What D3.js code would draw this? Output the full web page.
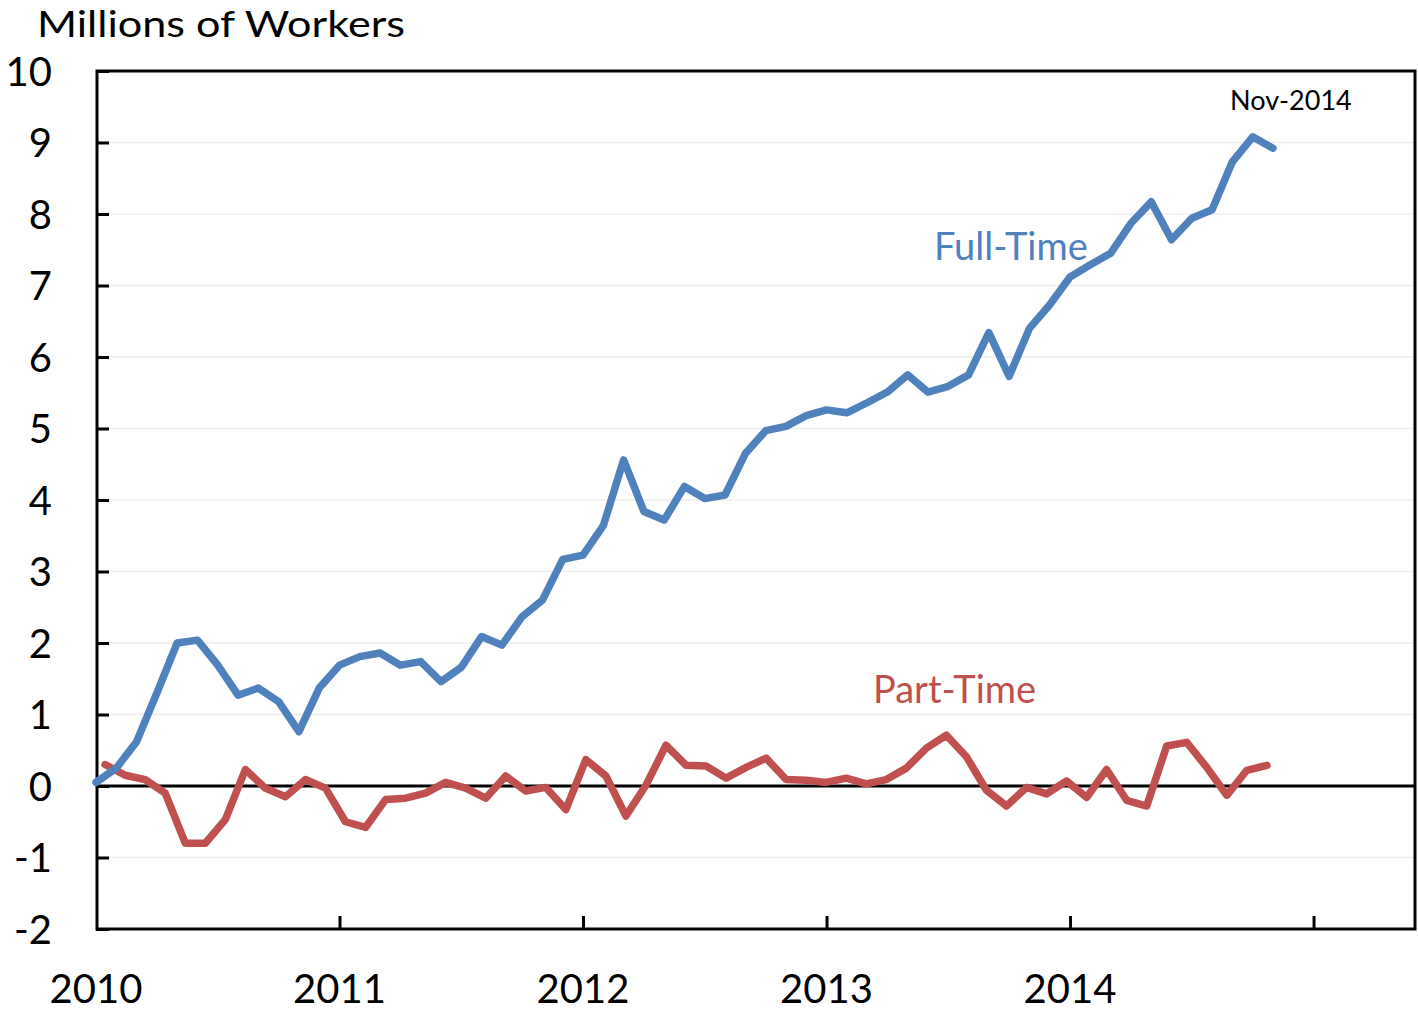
<!DOCTYPE html>
<html>
<head>
<meta charset="utf-8">
<script src="https://cdn.jsdelivr.net/npm/d3@7"></script>
<style>
  body { margin: 0; background: #fff; }
  svg { display: block; font-family: Lato, "Open Sans", sans-serif; }
</style>
</head>
<body>
<div id="chart"></div>
<script>
// months since Jan 2010, one value per month through Nov 2014
const fullTime = [
    0.05, 0.25, 0.62, 1.30, 2.00, 2.04, 1.69, 1.27, 1.37, 1.18,
    0.76, 1.37, 1.69, 1.81, 1.86, 1.69, 1.74, 1.46, 1.66, 2.09,
    1.97, 2.37, 2.60, 3.17, 3.23, 3.64, 4.56, 3.84, 3.72, 4.19,
    4.02, 4.07, 4.65, 4.97, 5.03, 5.18, 5.26, 5.22, 5.36, 5.51,
    5.75, 5.51, 5.59, 5.75, 6.34, 5.73, 6.40, 6.73, 7.12, 7.29,
    7.45, 7.87, 8.17, 7.64, 7.94, 8.06, 8.73, 9.08, 8.92
];
const partTime = [
    0.30, 0.15, 0.09, -0.10, -0.80, -0.80, -0.47, 0.23, -0.03, -0.15,
    0.09, -0.03, -0.50, -0.58, -0.19, -0.17, -0.10, 0.05, -0.03, -0.17,
    0.14, -0.07, -0.02, -0.33, 0.37, 0.14, -0.42, 0.01, 0.57, 0.29,
    0.28, 0.11, 0.26, 0.39, 0.09, 0.08, 0.05, 0.11, 0.03, 0.09,
    0.25, 0.53, 0.71, 0.41, -0.06, -0.28, -0.02, -0.11, 0.07, -0.16,
    0.23, -0.20, -0.28, 0.56, 0.61, 0.26, -0.13, 0.22, 0.29
];
const yearLabels = ['2010', '2011', '2012', '2013', '2014'];
const yTicks = [-2, -1, 0, 1, 2, 3, 4, 5, 6, 7, 8, 9, 10];

const width = 1418;
const height = 1013;

const x = d3.scaleLinear().domain([0, 65]).range([96, 1415]);
// part-time series sits on its own (slightly narrower) category axis
const xPart = d3.scaleLinear().domain([0, partTime.length - 1]).range([x(0.45), x(57.7)]);
const y = d3.scaleLinear().domain([-2, 10]).range([929, 71]);

const svg = d3.select('#chart')
    .append('svg')
    .attr('width', width)
    .attr('height', height)

// gridlines
svg.append('g')
    .selectAll('line')
    .data(yTicks.filter(d => d !== 0 && d !== -2 && d !== 10))
    .join('line')
    .attr('x1', x(0))
    .attr('x2', x(65))
    .attr('y1', d => y(d))
    .attr('y2', d => y(d))
    .attr('stroke', '#eeeeee')
    .attr('stroke-width', 1.5)

// y axis ticks (pointing inward) + labels, plain hyphen for negatives
const yAxis = svg.append('g')
    .attr('transform', `translate(${x(0)},0)`)
    .call(d3.axisLeft(y).tickValues(yTicks).tickSize(-13).tickPadding(0).tickFormat(d => String(d)))
yAxis.select('.domain').remove()
yAxis.selectAll('.tick line').attr('stroke', '#000').attr('stroke-width', 3)
yAxis.selectAll('.tick text')
    .attr('x', -44)
    .attr('dy', '0.36em')
    .attr('text-anchor', 'end')
    .style('font-family', 'Lato, sans-serif')
    .style('font-size', '40px')
    .attr('fill', '#000')

// x axis ticks (pointing inward)
const xAxis = svg.append('g')
    .attr('transform', `translate(0,${y(-2)})`)
    .call(d3.axisBottom(x).tickValues([12, 24, 36, 48, 60]).tickSize(-13).tickFormat(''))
xAxis.select('.domain').remove()
xAxis.selectAll('.tick line').attr('stroke', '#000').attr('stroke-width', 3)

// year labels under the axis
svg.append('g')
    .selectAll('text')
    .data(yearLabels)
    .join('text')
    .attr('x', (d, i) => x(i * 12))
    .attr('y', 1003)
    .attr('text-anchor', 'middle')
    .style('font-size', '40px')
    .attr('fill', '#000')
    .text(d => d)

// zero line
svg.append('line')
    .attr('x1', x(0))
    .attr('x2', x(65))
    .attr('y1', y(0))
    .attr('y2', y(0))
    .attr('stroke', '#000')
    .attr('stroke-width', 3)

// plot frame
svg.append('rect')
    .attr('x', x(0) + 1)
    .attr('y', y(10))
    .attr('width', x(65) - x(0) - 1)
    .attr('height', y(-2) - y(10))
    .attr('fill', 'none')
    .attr('stroke', '#000')
    .attr('stroke-width', 3)

const lineFull = d3.line().x((d, i) => x(i)).y(d => y(d))
const linePart = d3.line().x((d, i) => xPart(i)).y(d => y(d))

svg.append('path')
    .datum(partTime)
    .attr('d', linePart)
    .attr('fill', 'none')
    .attr('stroke', '#C0504D')
    .attr('stroke-width', 7.5)
    .attr('stroke-linejoin', 'round')
    .attr('stroke-linecap', 'round')

svg.append('path')
    .datum(fullTime)
    .attr('d', lineFull)
    .attr('fill', 'none')
    .attr('stroke', '#4F81BD')
    .attr('stroke-width', 7.5)
    .attr('stroke-linejoin', 'round')
    .attr('stroke-linecap', 'round')

// titles and labels
svg.append('text')
    .attr('x', 37)
    .attr('y', 37)
    .style('font-size', '37px')
    .attr('textLength', 368)
    .attr('lengthAdjust', 'spacingAndGlyphs')
    .attr('fill', '#000')
    .text('Millions of Workers')

svg.append('text')
    .attr('x', 934)
    .attr('y', 260)
    .style('font-size', '38px')
    .attr('fill', '#4F81BD')
    .text('Full-Time')

svg.append('text')
    .attr('x', 873)
    .attr('y', 703)
    .style('font-size', '38px')
    .attr('fill', '#C0504D')
    .text('Part-Time')

svg.append('text')
    .attr('x', 1230)
    .attr('y', 110)
    .style('font-size', '27px')
    .attr('fill', '#000')
    .text('Nov-2014')
</script>
</body>
</html>
